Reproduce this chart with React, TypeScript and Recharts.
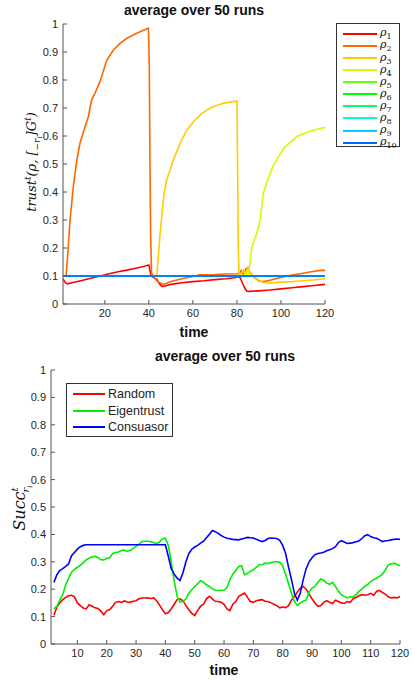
import React from "react";
import { LineChart, Line, XAxis, YAxis } from "recharts";

// ---- top chart: trust of each rho over time (sparse points)
const RHO_COLORS = [
  "#ff0000", "#ff6600", "#ffcc00", "#ccff00", "#66ff00",
  "#00ff00", "#00ff66", "#00ffcc", "#00ccff", "#0066ff",
];

const T_RHO1 = [1, 2, 3, 6, 10, 14, 18, 22, 26, 30, 34, 38, 40, 40.5, 41, 42, 43.6, 45, 46, 48, 50, 55, 60, 65, 70, 75, 79, 80, 81.5, 82.5, 83.5, 84.5, 86, 90, 95, 100, 105, 110, 115, 120];
const V_RHO1 = [0.09, 0.077, 0.072, 0.078, 0.085, 0.093, 0.1, 0.108, 0.115, 0.121, 0.128, 0.135, 0.139, 0.12, 0.1, 0.095, 0.088, 0.07, 0.062, 0.066, 0.07, 0.076, 0.08, 0.083, 0.087, 0.09, 0.094, 0.097, 0.094, 0.075, 0.058, 0.046, 0.045, 0.047, 0.05, 0.054, 0.058, 0.062, 0.066, 0.07];

const T_RHO2 = [1, 2, 2.4, 3.4, 4.2, 5.7, 7.2, 8.7, 11, 12.5, 14, 15.5, 17.8, 20.9, 23.9, 26.9, 30, 34.5, 37, 39.8, 40.2, 40.5, 40.8, 41.2, 42, 43, 44, 45, 46.5, 48, 50, 52.7, 55, 60, 63, 70, 75, 80, 81, 82, 83, 84, 85, 86, 87, 88, 90, 92, 95, 100, 105, 110, 115, 118, 120];
const V_RHO2 = [0.1, 0.1, 0.1, 0.205, 0.3, 0.42, 0.51, 0.574, 0.633, 0.669, 0.729, 0.752, 0.794, 0.871, 0.907, 0.931, 0.949, 0.967, 0.976, 0.985, 0.85, 0.5, 0.25, 0.11, 0.1, 0.088, 0.08, 0.076, 0.07, 0.074, 0.08, 0.086, 0.09, 0.098, 0.104, 0.105, 0.107, 0.108, 0.11, 0.12, 0.105, 0.125, 0.13, 0.11, 0.1, 0.095, 0.082, 0.08, 0.085, 0.095, 0.103, 0.11, 0.117, 0.12, 0.12];

const T_RHO3 = [1, 41, 42, 43, 43.6, 45.1, 46.9, 48.1, 51.1, 54.2, 57.2, 61, 64, 67.8, 70, 73.9, 77, 80, 80.3, 80.6, 81, 82, 83, 84, 85, 86, 88, 90, 92, 95, 100, 105, 110, 115, 120];
const V_RHO3 = [0.1, 0.1, 0.1, 0.1, 0.1, 0.252, 0.395, 0.443, 0.514, 0.574, 0.621, 0.657, 0.68, 0.699, 0.707, 0.717, 0.721, 0.725, 0.5, 0.2, 0.1, 0.11, 0.12, 0.1, 0.13, 0.11, 0.095, 0.085, 0.076, 0.075, 0.078, 0.08, 0.083, 0.086, 0.09];

const T_RHO4 = [1, 83, 84, 85.2, 86.8, 89, 90.5, 92, 93.9, 96.6, 101.2, 107.2, 113.3, 120];
const V_RHO4 = [0.1, 0.1, 0.11, 0.1, 0.205, 0.252, 0.3, 0.395, 0.443, 0.496, 0.556, 0.598, 0.618, 0.631];

const T_FLAT = [1, 120];
const V_FLAT = [0.1, 0.1];

const RHO_SERIES = [
  [T_RHO1, V_RHO1], [T_RHO2, V_RHO2], [T_RHO3, V_RHO3], [T_RHO4, V_RHO4],
  [T_FLAT, V_FLAT], [T_FLAT, V_FLAT], [T_FLAT, V_FLAT], [T_FLAT, V_FLAT],
  [T_FLAT, V_FLAT], [T_FLAT, V_FLAT],
];

// ---- bottom chart: success rate per step, t = 2..120
const TIME = [
  2, 3, 4, 5, 6, 7, 8, 9, 10, 11, 12, 13, 14, 15, 16, 17, 18, 19, 20,
  21, 22, 23, 24, 25, 26, 27, 28, 29, 30, 31, 32, 33, 34, 35, 36, 37, 38, 39, 40,
  41, 42, 43, 44, 45, 46, 47, 48, 49, 50, 51, 52, 53, 54, 55, 56, 57, 58, 59, 60,
  61, 62, 63, 64, 65, 66, 67, 68, 69, 70, 71, 72, 73, 74, 75, 76, 77, 78, 79, 80,
  81, 82, 83, 84, 85, 86, 87, 88, 89, 90, 91, 92, 93, 94, 95, 96, 97, 98, 99, 100,
  101, 102, 103, 104, 105, 106, 107, 108, 109, 110, 111, 112, 113, 114, 115, 116, 117, 118, 119, 120,
];

const RANDOM = [
  0.105, 0.135, 0.15, 0.162, 0.17, 0.176, 0.178, 0.172, 0.15,
  0.14, 0.131, 0.128, 0.143, 0.138, 0.132, 0.13, 0.12, 0.107, 0.122,
  0.125, 0.138, 0.152, 0.155, 0.152, 0.157, 0.153, 0.152, 0.156, 0.158,
  0.165, 0.168, 0.168, 0.169, 0.166, 0.168, 0.158, 0.143, 0.125, 0.11,
  0.115, 0.128, 0.145, 0.162, 0.165, 0.158, 0.14, 0.125, 0.112, 0.104,
  0.122, 0.138, 0.145, 0.165, 0.174, 0.165, 0.156, 0.155, 0.152, 0.145,
  0.128, 0.122, 0.145, 0.155, 0.174, 0.18, 0.186, 0.17, 0.155, 0.152,
  0.158, 0.16, 0.162, 0.156, 0.155, 0.15, 0.145, 0.14, 0.132, 0.135,
  0.133, 0.14, 0.16, 0.174, 0.19, 0.204, 0.21, 0.2, 0.182, 0.165,
  0.15, 0.137, 0.14, 0.152, 0.158, 0.152, 0.148, 0.16, 0.155, 0.15,
  0.148, 0.155, 0.152, 0.165, 0.17, 0.176, 0.18, 0.178, 0.18, 0.185,
  0.178, 0.192, 0.196, 0.188, 0.182, 0.172, 0.168, 0.17, 0.168, 0.174,
];

const EIGENTRUST = [
  0.128, 0.137, 0.16, 0.18, 0.216, 0.24, 0.262, 0.272, 0.28,
  0.287, 0.297, 0.307, 0.313, 0.318, 0.32, 0.316, 0.308, 0.307, 0.313,
  0.315, 0.33, 0.334, 0.336, 0.341, 0.343, 0.338, 0.342, 0.348, 0.356,
  0.365, 0.374, 0.375, 0.375, 0.373, 0.37, 0.366, 0.372, 0.384, 0.386,
  0.36, 0.3, 0.23, 0.174, 0.153, 0.156, 0.164, 0.185, 0.198, 0.21,
  0.22, 0.231, 0.226, 0.216, 0.21, 0.202, 0.196, 0.195, 0.196, 0.197,
  0.205, 0.235, 0.255, 0.268, 0.283, 0.286, 0.253, 0.258, 0.265, 0.271,
  0.28, 0.289, 0.29, 0.295, 0.294, 0.297, 0.3, 0.3, 0.298, 0.285,
  0.255, 0.22, 0.185, 0.155, 0.141, 0.15, 0.156, 0.16, 0.19, 0.204,
  0.21, 0.225, 0.237, 0.232, 0.222, 0.218, 0.225, 0.21, 0.192, 0.18,
  0.174, 0.168, 0.172, 0.171, 0.18, 0.192, 0.2, 0.21, 0.218, 0.228,
  0.235, 0.24, 0.247, 0.255, 0.27, 0.289, 0.292, 0.295, 0.29, 0.286,
];

const CONSUASOR = [
  0.225, 0.253, 0.268, 0.275, 0.283, 0.293, 0.322, 0.334, 0.346,
  0.355, 0.36, 0.362, 0.362, 0.362, 0.362, 0.362, 0.362, 0.362, 0.362,
  0.362, 0.362, 0.362, 0.362, 0.362, 0.362, 0.362, 0.362, 0.362, 0.362,
  0.362, 0.362, 0.362, 0.362, 0.362, 0.362, 0.362, 0.362, 0.362, 0.362,
  0.32, 0.275, 0.255, 0.24, 0.232, 0.26, 0.3, 0.33, 0.346, 0.354,
  0.36, 0.368, 0.375, 0.388, 0.4, 0.414, 0.41, 0.404, 0.396, 0.39,
  0.386, 0.384, 0.382, 0.381, 0.38, 0.383, 0.386, 0.389, 0.388, 0.387,
  0.382, 0.378, 0.374, 0.378, 0.385, 0.387, 0.386, 0.385, 0.378, 0.36,
  0.33, 0.28, 0.235, 0.185, 0.16, 0.186, 0.235, 0.275, 0.3, 0.315,
  0.326, 0.33, 0.332, 0.335, 0.34, 0.344, 0.348, 0.355, 0.37, 0.377,
  0.372, 0.367, 0.368, 0.37, 0.373, 0.376, 0.385, 0.395, 0.399, 0.392,
  0.388, 0.386, 0.38, 0.374, 0.377, 0.378, 0.38, 0.382, 0.383, 0.382,
];

const SUCC_NAMES = ["Random", "Eigentrust", "Consuasor"];
const SUCC_COLORS = ["#ff0000", "#00ee00", "#0000ff"];

const TOP_X_TICKS = [20, 40, 60, 80, 100, 120];
const BOT_X_TICKS = [10, 20, 30, 40, 50, 60, 70, 80, 90, 100, 110, 120];
const Y_TICKS = [0, 0.1, 0.2, 0.3, 0.4, 0.5, 0.6, 0.7, 0.8, 0.9, 1];

const AXIS = "#555";
const tickStyle = { fontSize: 11, fill: "#262626", fontFamily: "Liberation Sans, Arial, sans-serif" };
const fmtY = (v: number) => (v === 0 || v === 1 ? String(v) : v.toFixed(1));

const succData = TIME.map((t, i) => ({
  t,
  Random: RANDOM[i],
  Eigentrust: EIGENTRUST[i],
  Consuasor: CONSUASOR[i],
}));

function Axes({ xTicks }: { xTicks: number[] }) {
  return null;
}

function boxAxes(xTicks: number[]) {
  return [
    <XAxis
      key="xb"
      xAxisId="b"
      dataKey="t"
      type="number"
      domain={[1, 120]}
      ticks={xTicks}
      interval={0}
      allowDataOverflow
      height={30}
      tickSize={-4}
      tickMargin={9}
      stroke={AXIS}
      tick={tickStyle}
    />,
    <XAxis
      key="xt"
      xAxisId="t"
      orientation="top"
      dataKey="t"
      type="number"
      domain={[1, 120]}
      ticks={xTicks}
      interval={0}
      height={0}
      tickSize={-4}
      stroke={AXIS}
      tick={false}
    />,
    <YAxis
      key="yl"
      yAxisId="l"
      type="number"
      domain={[0, 1]}
      ticks={Y_TICKS}
      interval={0}
      width={40}
      tickSize={-4}
      tickMargin={9}
      stroke={AXIS}
      tick={tickStyle}
      tickFormatter={fmtY}
    />,
    <YAxis
      key="yr"
      yAxisId="r"
      orientation="right"
      type="number"
      domain={[0, 1]}
      ticks={Y_TICKS}
      interval={0}
      width={0}
      tickSize={-4}
      stroke={AXIS}
      tick={false}
    />,
  ];
}

const abs = (left: number, top: number): React.CSSProperties => ({
  position: "absolute",
  left,
  top,
  transform: "translate(-50%, -50%)",
  whiteSpace: "nowrap",
  lineHeight: 1,
});

const titleStyle: React.CSSProperties = {
  fontFamily: "Liberation Sans, Arial, sans-serif",
  fontWeight: "bold",
  fontSize: 14,
  color: "#111",
};

const mathStyle: React.CSSProperties = {
  fontFamily: "DejaVu Serif, Liberation Serif, serif",
  fontStyle: "italic",
  color: "#111",
};

export default function App() {
  return (
    <div style={{ position: "absolute", left: 0, top: 0, width: 413, height: 680, background: "#fff" }}>
      {/* top chart */}
      <div style={{ position: "absolute", left: 0, top: 0 }}>
        <LineChart width={413} height={340} margin={{ top: 24, right: 88, bottom: 6, left: 23 }}>
          {boxAxes(TOP_X_TICKS)}
          {RHO_SERIES.map(([ts, vs], i) => (
            <Line
              key={i}
              xAxisId="b"
              yAxisId="l"
              data={ts.map((t, j) => ({ t, v: vs[j] }))}
              dataKey="v"
              stroke={RHO_COLORS[i]}
              strokeWidth={1.6}
              dot={false}
              isAnimationActive={false}
            />
          ))}
        </LineChart>
      </div>
      <div style={{ ...abs(194, 10), ...titleStyle }}>average over 50 runs</div>
      <div style={{ ...abs(194, 332), ...titleStyle }}>time</div>
      <div style={{ ...abs(34, 162), transform: "translate(-50%, -50%) rotate(-90deg)", ...mathStyle, fontSize: 13 }}>
        trust<sup style={{ fontSize: 9 }}>t</sup>(ρ, [<sub style={{ fontSize: 9 }}>−r<sub style={{ fontSize: 7 }}>i</sub></sub>]G<sup style={{ fontSize: 9 }}>t</sup>)
      </div>
      <div
        style={{
          position: "absolute",
          left: 336,
          top: 23,
          width: 64,
          height: 124,
          border: "1px solid #333",
          background: "#fff",
          boxSizing: "border-box",
        }}
      >
        {RHO_COLORS.map((c, i) => (
          <div key={i} style={{ position: "absolute", left: 6, top: 4 + i * 12.07, height: 12, display: "flex", alignItems: "center" }}>
            <span style={{ display: "inline-block", width: 34, height: 2, background: c }} />
            <span style={{ ...mathStyle, fontSize: 11, marginLeft: 3 }}>
              ρ<sub style={{ fontSize: 8, fontStyle: "normal" }}>{i + 1}</sub>
            </span>
          </div>
        ))}
      </div>

      {/* bottom chart */}
      <div style={{ position: "absolute", left: 0, top: 340 }}>
        <LineChart width={413} height={340} data={succData} margin={{ top: 30, right: 13, bottom: 6, left: 11 }}>
          {boxAxes(BOT_X_TICKS)}
          {SUCC_NAMES.map((n, i) => (
            <Line
              key={n}
              xAxisId="b"
              yAxisId="l"
              dataKey={n}
              stroke={SUCC_COLORS[i]}
              strokeWidth={1.6}
              dot={false}
              isAnimationActive={false}
            />
          ))}
        </LineChart>
      </div>
      <div style={{ ...abs(225, 356), ...titleStyle }}>average over 50 runs</div>
      <div style={{ ...abs(224, 670), ...titleStyle }}>time</div>
      <div style={{ ...abs(22, 508), transform: "translate(-50%, -50%) rotate(-90deg)", ...mathStyle, fontSize: 16 }}>
        Succ<sup style={{ fontSize: 10 }}>t</sup>
        <sub style={{ fontSize: 10, marginLeft: -5 }}>
          r<sub style={{ fontSize: 7 }}>i</sub>
        </sub>
      </div>
      <div
        style={{
          position: "absolute",
          left: 66,
          top: 383,
          width: 107,
          height: 54,
          border: "1px solid #333",
          background: "#fff",
          boxSizing: "border-box",
        }}
      >
        {SUCC_NAMES.map((n, i) => (
          <div key={n} style={{ position: "absolute", left: 6, top: 2 + i * 16.7, height: 16, display: "flex", alignItems: "center" }}>
            <span style={{ display: "inline-block", width: 32, height: 2, background: SUCC_COLORS[i] }} />
            <span style={{ fontFamily: "Liberation Sans, Arial, sans-serif", fontSize: 12.5, marginLeft: 3, color: "#222" }}>{n}</span>
          </div>
        ))}
      </div>
    </div>
  );
}
